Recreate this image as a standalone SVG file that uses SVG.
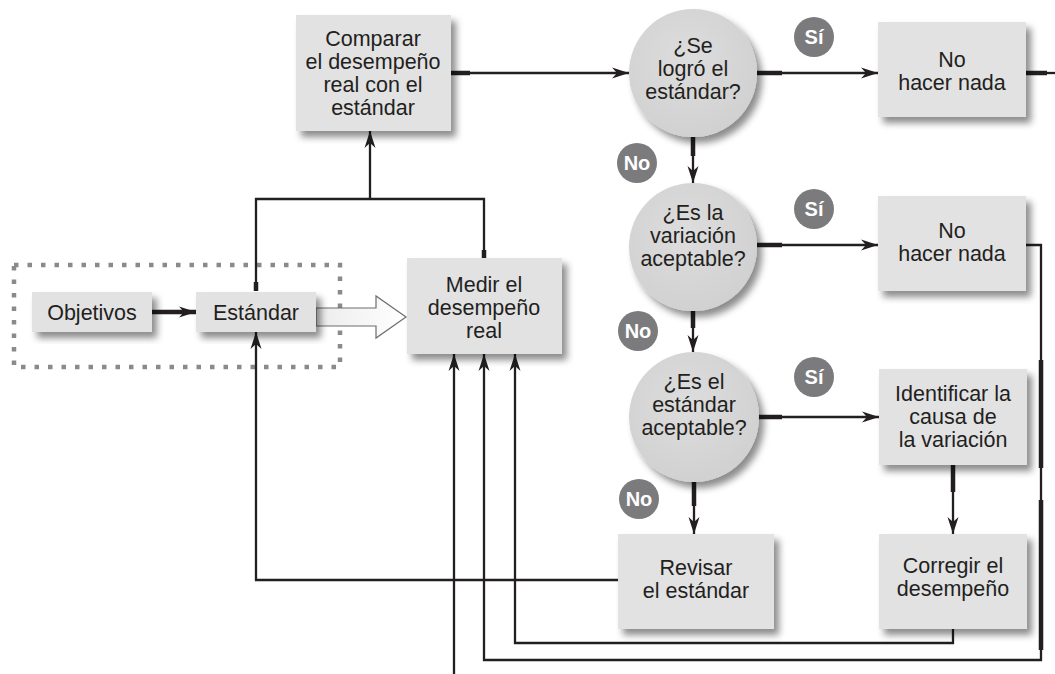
<svg xmlns="http://www.w3.org/2000/svg" width="1055" height="674" viewBox="0 0 1055 674">
<style>
.box{fill:#e2e2e3;filter:url(#sh)}
.circ{fill:url(#cg);filter:url(#sh)}
.t{font-family:"Liberation Sans",Arial,sans-serif;font-size:21.5px;fill:#231f20;text-anchor:middle}
.badge{fill:#7b7b7d}
.bt{font-family:"Liberation Sans",Arial,sans-serif;font-size:20px;font-weight:bold;fill:#fff;text-anchor:middle}
.ln{fill:none;stroke:#231f20;stroke-width:2.3}
.thk{fill:none;stroke:#231f20;stroke-width:4.5}
.arr{marker-end:url(#ah)}
</style>
<defs>
<filter id="sh" x="-20%" y="-20%" width="150%" height="150%">
<feDropShadow dx="5" dy="6" stdDeviation="3.5" flood-color="#000" flood-opacity="0.45"/>
</filter>
<radialGradient id="cg" cx="45%" cy="40%" r="65%">
<stop offset="0" stop-color="#dddddd"/>
<stop offset="1" stop-color="#d0d0d1"/>
</radialGradient>
<linearGradient id="hg" x1="0" y1="0" x2="1" y2="0">
<stop offset="0" stop-color="#ececec"/>
<stop offset="1" stop-color="#ffffff"/>
</linearGradient>
<marker id="ah" markerUnits="userSpaceOnUse" markerWidth="18" markerHeight="12" refX="17" refY="6" orient="auto">
<path d="M0,0.5 L17,6 L0,11.5 L5,6 z" fill="#231f20"/>
</marker>
</defs>

<!-- dashed group outline -->
<rect x="14" y="265" width="326" height="102" fill="none" stroke="#8a8a8c" stroke-width="4.5" stroke-dasharray="4.5 9"/>

<g id="connectors">
<path class="ln arr" d="M450,73 H629"/>
<path class="thk" d="M450,73 H470"/>
<path class="ln arr" d="M757,73 H878"/>
<path class="thk" d="M757,73 H782"/>
<path class="ln" d="M1026,73 H1055"/>
<path class="thk" d="M1026,73 H1047"/>
<path class="ln arr" d="M693,137 V183"/>
<path class="thk" d="M693,137 V156"/>
<path class="ln arr" d="M757,245 H878"/>
<path class="thk" d="M757,245 H782"/>
<path class="ln arr" d="M693,311 V352"/>
<path class="thk" d="M693,311 V328"/>
<path class="ln arr" d="M758,417 H879"/>
<path class="thk" d="M758,417 H782"/>
<path class="ln arr" d="M694,482 V534"/>
<path class="thk" d="M694,482 V506"/>
<path class="ln arr" d="M953,465 V534"/>
<path class="thk" d="M953,465 V492"/>
<path class="ln arr" d="M618,580 H256 V332"/>
<path class="ln arr" d="M953,629 V643 H515 V354"/>
<path class="ln arr" d="M1026,245 H1041 V660 H484 V354"/>
<path class="thk" d="M1041,360 V468 M1041,500 V650"/>
<path class="ln arr" d="M454,674 V354"/>
<path class="ln" d="M256,291 V199 H484 V258"/>
<path class="thk" d="M256,291 V282 M484,258 V250"/>
<path class="ln arr" d="M370,199 V131"/>
<path class="thk arr" d="M152,312 H196"/>
<polygon points="316,308 376,308 376,296 406,317 376,338 376,326 316,326" fill="url(#hg)" stroke="#6d6d6f" stroke-width="1.2"/>
</g>

<g id="objetivos">
<rect class="box" x="32" y="292" width="120" height="40"/>
<text class="t" x="92" y="320">Objetivos</text>
</g>
<g id="estandar">
<rect class="box" x="196" y="292" width="120" height="40"/>
<text class="t" x="256" y="320">Estándar</text>
</g>
<g id="comparar">
<rect class="box" x="296" y="15" width="155" height="116"/>
<text class="t" x="373" y="46">Comparar</text>
<text class="t" x="373" y="69">el desempeño</text>
<text class="t" x="373" y="92">real con el</text>
<text class="t" x="373" y="115">estándar</text>
</g>
<g id="medir">
<rect class="box" x="407" y="258" width="155" height="96"/>
<text class="t" x="484" y="292">Medir el</text>
<text class="t" x="484" y="315">desempeño</text>
<text class="t" x="484" y="338">real</text>
</g>
<g id="q1">
<circle class="circ" cx="693" cy="73" r="64"/>
<text class="t" x="693" y="53">¿Se</text>
<text class="t" x="693" y="76">logró el</text>
<text class="t" x="693" y="99">estándar?</text>
</g>
<g id="q2">
<circle class="circ" cx="693" cy="247" r="64"/>
<text class="t" x="693" y="220">¿Es la</text>
<text class="t" x="693" y="243">variación</text>
<text class="t" x="693" y="266">aceptable?</text>
</g>
<g id="q3">
<circle class="circ" cx="694" cy="417" r="65"/>
<text class="t" x="694" y="389">¿Es el</text>
<text class="t" x="694" y="412">estándar</text>
<text class="t" x="694" y="435">aceptable?</text>
</g>
<g id="nada1">
<rect class="box" x="878" y="22" width="148" height="95"/>
<text class="t" x="952" y="67">No</text>
<text class="t" x="952" y="90">hacer nada</text>
</g>
<g id="nada2">
<rect class="box" x="878" y="196" width="148" height="95"/>
<text class="t" x="952" y="238">No</text>
<text class="t" x="952" y="261">hacer nada</text>
</g>
<g id="identificar">
<rect class="box" x="879" y="369" width="148" height="96"/>
<text class="t" x="953" y="401">Identificar la</text>
<text class="t" x="953" y="424">causa de</text>
<text class="t" x="953" y="447">la variación</text>
</g>
<g id="revisar">
<rect class="box" x="618" y="534" width="156" height="95"/>
<text class="t" x="696" y="575">Revisar</text>
<text class="t" x="696" y="598">el estándar</text>
</g>
<g id="corregir">
<rect class="box" x="879" y="534" width="148" height="95"/>
<text class="t" x="953" y="573">Corregir el</text>
<text class="t" x="953" y="596">desempeño</text>
</g>

<g id="badges">
<circle class="badge" cx="814" cy="37" r="20"/><text class="bt" x="814" y="44">Sí</text>
<circle class="badge" cx="637" cy="163" r="20"/><text class="bt" x="637" y="170">No</text>
<circle class="badge" cx="814" cy="209" r="20"/><text class="bt" x="814" y="216">Sí</text>
<circle class="badge" cx="638" cy="331" r="20"/><text class="bt" x="638" y="338">No</text>
<circle class="badge" cx="814" cy="377" r="20"/><text class="bt" x="814" y="384">Sí</text>
<circle class="badge" cx="639" cy="499" r="20"/><text class="bt" x="639" y="506">No</text>
</g>
</svg>
